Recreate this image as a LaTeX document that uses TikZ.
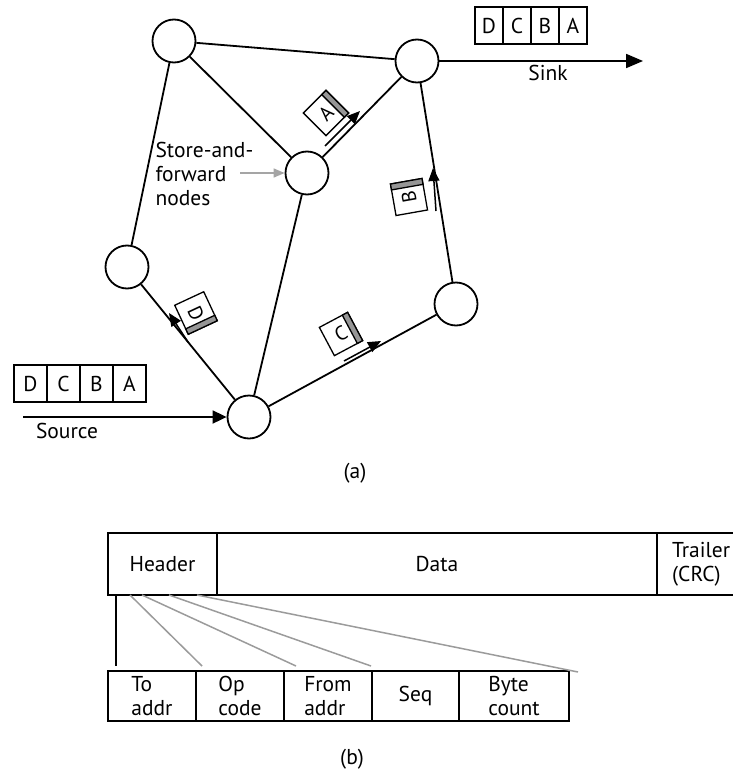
\documentclass[tikz,border=0pt]{standalone}
\usepackage{fontspec}
\setmainfont{PT Sans}
\usepackage{tikz}
\usetikzlibrary{arrows.meta, positioning, calc}
\definecolor{bargray}{RGB}{150, 150, 150}
\definecolor{fanline}{RGB}{155, 155, 155}
\definecolor{pointgray}{RGB}{165, 165, 165}

\newcommand{\pktbar}[1]{%
  \filldraw[fill=bargray, line width=1.3pt] (#1.north east) -- (#1.south east)
    -- ($(#1.south east)!6pt!(#1.south west)$) -- ($(#1.north east)!6pt!(#1.north west)$) -- cycle;}

\begin{document}
\begin{tikzpicture}[x=1pt, y=-1pt,
    font=\fontsize{21.5}{24}\selectfont,
    sfnode/.style={circle, draw, line width=1.8pt, minimum size=43pt, inner sep=0pt, fill=white},
    link/.style={line width=1.8pt},
    pkt/.style={draw, fill=white, line width=1.3pt, minimum size=32pt, inner sep=0pt, outer sep=0pt, font=\fontsize{20}{20}\selectfont},
    cell/.style={draw, line width=1.3pt, minimum width=28pt, minimum height=37pt, inner sep=0pt, outer sep=0pt},
    field/.style={draw, line width=1.8pt, minimum height=50pt, inner sep=0pt, outer sep=0pt, align=left},
    move/.style={line width=1.5pt, -{Triangle[length=13pt, width=11pt]}}]
    \useasboundingbox (0,0) rectangle (733,771);

    % (a) store-and-forward network
    \node[sfnode] (ntopleft) at (174,41) {};
    \node[sfnode] (ntopright) at (417,61) {};
    \node[sfnode] (nmid) at (307,173) {};
    \node[sfnode] (nleft) at (127,267) {};
    \node[sfnode] (nsource) at (249,417) {};
    \node[sfnode] (nright) at (456,304) {};

    % Links
    \draw[link] (ntopleft) -- (ntopright);
    \draw[link] (ntopleft) -- (nmid);
    \draw[link] (ntopleft) -- (nleft);
    \draw[link] (ntopright) -- (nmid);
    \draw[link] (ntopright) -- (nright);
    \draw[link] (nmid) -- (nsource);
    \draw[link] (nleft) -- (nsource);
    \draw[link] (nsource) -- (nright);

    % Source and sink
    \coordinate (srcstart) at (23,417);
    \coordinate (sinkend) at (643,61);
    \draw[link, -{Triangle[length=14pt, width=13pt]}] (srcstart) -- (nsource);
    \draw[link, -{Triangle[length=17pt, width=14pt]}] (ntopright) -- (sinkend);
    \node (srclbl) at (67,431) {Source};
    \node (sinklbl) at (548,73) {Sink};

    \node[cell, minimum width=33pt] (srcD) at (30.5,383.5) {D};
    \node[cell, minimum width=33pt, right=0pt of srcD] (srcC) {C};
    \node[cell, minimum width=33pt, right=0pt of srcC] (srcB) {B};
    \node[cell, minimum width=33pt, right=0pt of srcB] (srcA) {A};

    \node[cell] (snkD) at (489,25.5) {D};
    \node[cell, right=0pt of snkD] (snkC) {C};
    \node[cell, right=0pt of snkC] (snkB) {B};
    \node[cell, right=0pt of snkB] (snkA) {A};

    % Label for the nodes
    \node[align=left, anchor=west] (sflbl) at (152,174) {Store-and-\\forward\\nodes};
    \coordinate (sfstart) at (240,173);
    \draw[pointgray, line width=1.5pt, -{Triangle[length=11pt, width=9pt]}] (sfstart) -- (nmid.west);

    % Packets in transit
    \node[pkt, rotate=45] (pktA) at (326,113) {A}; \pktbar{pktA}
    \node[pkt, rotate=100] (pktB) at (409,197) {B}; \pktbar{pktB}
    \node[pkt, rotate=28] (pktC) at (341,334) {C}; \pktbar{pktC}
    \node[pkt, rotate=-65] (pktD) at (196,313) {D}; \pktbar{pktD}

    \coordinate (mvA1) at (325,146); \coordinate (mvA2) at (360,111);
    \coordinate (mvB1) at (436,211); \coordinate (mvB2) at (433,168);
    \coordinate (mvC1) at (344,361); \coordinate (mvC2) at (381,341);
    \coordinate (mvD1) at (188,342); \coordinate (mvD2) at (169,313);
    \draw[move] (mvA1) -- (mvA2);
    \draw[move] (mvB1) -- (mvB2);
    \draw[move] (mvC1) -- (mvC2);
    \draw[move] (mvD1) -- (mvD2);

    \node (lbla) at (355,473) {(a)};

    % (b) packet format
    \node[field, minimum width=109pt, minimum height=62pt, align=center] (hdr) at (162.5,564) {Header};
    \node[field, minimum width=440pt, minimum height=62pt, right=0pt of hdr] (data) {Data};
    \node[anchor=west, align=left, inner sep=0pt] (trl) at ($(data.east)+(15,0)$) {Trailer\\(CRC)};
    \coordinate (frametop) at (733,533);
    \coordinate (framebot) at (733,595);
    \draw[link] (data.north east) -- (frametop);
    \draw[link] (data.south east) -- (framebot);

    \node[field, minimum width=88pt] (toaddr) at (152,696) {To\\addr};
    \node[field, minimum width=88pt, right=0pt of toaddr] (opcode) {Op\\code};
    \node[field, minimum width=88pt, right=0pt of opcode] (fromaddr) {From\\addr};
    \node[field, minimum width=87pt, right=0pt of fromaddr] (seq) {Seq};
    \node[field, minimum width=110pt, right=0pt of seq] (bytecount) {Byte\\count};

    % Header expansion
    \draw[link] ($(hdr.south west)+(8,0)$) -- ($(toaddr.north west)+(8,-5)$);
    \draw[fanline, line width=1.5pt] ($(hdr.south west)+(22,0)$) -- ($(opcode.north west)+(6,-5)$);
    \draw[fanline, line width=1.5pt] ($(hdr.south west)+(34,0)$) -- ($(fromaddr.north west)+(12,-5)$);
    \draw[fanline, line width=1.5pt] ($(hdr.south west)+(61,0)$) -- ($(seq.north west)+(-1,-5)$);
    \draw[fanline, line width=1.5pt] ($(hdr.south west)+(89,0)$) -- ($(bytecount.north east)+(9,1)$);

    \node (lblb) at (352,759) {(b)};
\end{tikzpicture}
\end{document}
